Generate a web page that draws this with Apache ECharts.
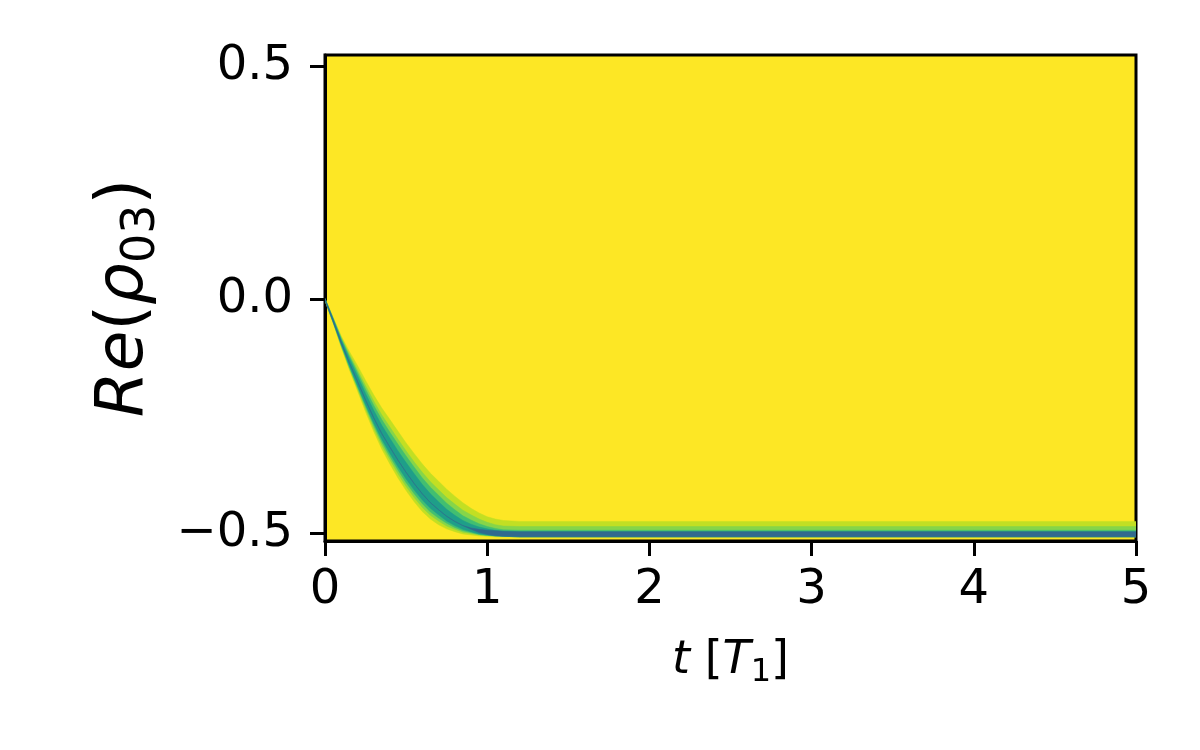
<!DOCTYPE html>
<html>
<head>
<meta charset="utf-8">
<script src="https://cdn.jsdelivr.net/npm/echarts@6/dist/echarts.min.js"></script>
<style>
  html, body { margin: 0; padding: 0; background: #fff; }
  #chart { width: 1200px; height: 750px; }
</style>
</head>
<body>
<div id="chart"></div>
<script>
// time samples [T1] read along the band
var tKeys = [0, 0.05, 0.1, 0.15, 0.2, 0.25, 0.3, 0.35, 0.4, 0.45, 0.5, 0.55, 0.6, 0.65, 0.7, 0.75, 0.8, 0.85, 0.9, 0.95, 1.0, 1.05, 1.1, 1.2, 1.5, 2, 3, 4, 5];
// centre of the band, Re(rho_03)
var center = [0, -0.045, -0.092, -0.135, -0.175, -0.215, -0.253, -0.287, -0.316, -0.344, -0.370, -0.394, -0.416, -0.435, -0.450, -0.464, -0.475, -0.484, -0.490, -0.495, -0.498, -0.500, -0.501, -0.502, -0.502, -0.502, -0.502, -0.502, -0.502];
// extent of each density level above / below the centre
var haloUp    = [.002,.007,.014,.024,.034,.042,.049,.055,.059,.062,.063,.064,.064,.063,.061,.058,.054,.049,.043,.038,.033,.030,.028,.027,.027,.027,.027,.027,.027];
var haloDown  = [.002,.005,.010,.015,.020,.025,.029,.033,.036,.038,.039,.039,.038,.035,.032,.027,.022,.018,.014,.011,.009,.008,.007,.006,.006,.006,.006,.006,.006];
var lightUp   = [.002,.006,.011,.018,.025,.031,.036,.040,.043,.045,.046,.046,.046,.045,.043,.040,.037,.033,.029,.025,.021,.018,.016,.016,.016,.016,.016,.016,.016];
var lightDown = [.002,.004,.008,.012,.016,.019,.022,.025,.027,.029,.030,.030,.029,.027,.024,.021,.017,.014,.011,.009,.007,.006,.006,.006,.006,.006,.006,.006,.006];
var greenUp   = [.002,.005,.009,.014,.019,.023,.027,.030,.032,.034,.035,.035,.034,.033,.031,.028,.025,.021,.018,.015,.012,.010,.008,.008,.008,.008,.008,.008,.008];
var greenDown = [.001,.003,.006,.009,.012,.014,.016,.018,.020,.021,.022,.022,.021,.020,.018,.015,.013,.011,.009,.008,.007,.006,.006,.006,.006,.006,.006,.006,.006];
var tealUp    = [.001,.003,.006,.009,.012,.014,.016,.018,.019,.020,.021,.021,.020,.019,.017,.015,.013,.011,.009,.008,.007,.006,.005,.005,.005,.005,.005,.005,.005];
var tealDown  = [.001,.002,.004,.007,.009,.010,.011,.012,.013,.014,.014,.014,.013,.012,.011,.010,.009,.008,.007,.007,.006,.006,.006,.006,.006,.006,.006,.006,.006];
var blueUp    = [.002,.003,.002,0,0,0,0,0,0,0,0,0,0,0,0,0,0,0,.001,.003,.004,.005,.005,.005,.005,.005,.005,.005,.005];
var blueDown  = [.002,.003,.002,0,0,0,0,0,0,0,0,0,0,0,0,0,0,0,.002,.004,.005,.006,.006,.006,.006,.006,.006,.006,.006];

var xTicks = [0, 1, 2, 3, 4, 5];
var yTicks = [-0.5, 0, 0.5];

// viridis_r levels, low density -> high density
var layers = [
  { up: haloUp,  down: haloDown,  color: '#c2df23' },
  { up: lightUp, down: lightDown, color: '#86d549' },
  { up: greenUp, down: greenDown, color: '#42be71' },
  { up: tealUp,  down: tealDown,  color: '#1f9e89' },
  { up: blueUp,  down: blueDown,  color: '#306a8e' }
];

var myChart = echarts.init(document.getElementById('chart'));
var font = 'DejaVu Sans';

function renderLayer(params, api) {
  var l = layers[params.dataIndex];
  var pts = [];
  for (var i = 0; i < tKeys.length; i++) {
    pts.push(api.coord([tKeys[i], center[i] + l.up[i]]));
  }
  for (var j = tKeys.length - 1; j >= 0; j--) {
    pts.push(api.coord([tKeys[j], center[j] - l.down[j]]));
  }
  return {
    type: 'polygon',
    shape: { points: pts },
    style: { fill: l.color, stroke: l.color, lineWidth: 0.5 }
  };
}

var option = {
  animation: false,
  backgroundColor: '#fff',
  grid: {
    left: 325, right: 64, top: 55, bottom: 209,
    show: true,
    backgroundColor: '#fde725',
    borderColor: '#000',
    borderWidth: 3
  },
  xAxis: {
    type: 'value',
    min: 0, max: 5, interval: 1,
    name: '{i|t} [{i|T}{sub|1}]',
    nameLocation: 'middle',
    nameGap: 92,
    nameTextStyle: {
      color: '#000', fontFamily: font, fontSize: 46, lineHeight: 56,
      rich: {
        i: { fontStyle: 'italic', fontFamily: font, fontSize: 46, lineHeight: 56, color: '#000' },
        sub: { fontFamily: font, fontSize: 32, lineHeight: 31, verticalAlign: 'bottom', color: '#000' }
      }
    },
    axisLine: { show: true, onZero: false, lineStyle: { color: '#000', width: 3 } },
    axisTick: { show: true, length: 15, lineStyle: { color: '#000', width: 3 } },
    axisLabel: {
      color: '#000', fontFamily: font, fontSize: 48, margin: 26,
      customValues: xTicks,
      formatter: function (v) { return String(v); }
    },
    splitLine: { show: false }
  },
  yAxis: {
    type: 'value',
    min: -0.517, max: 0.524,
    name: '{i|Re}({i|ρ}{sub|03})',
    nameLocation: 'middle',
    nameRotate: 90,
    nameGap: 160,
    nameTextStyle: {
      color: '#000', fontFamily: font, fontSize: 66, lineHeight: 80,
      rich: {
        i: { fontStyle: 'italic', fontFamily: font, fontSize: 66, lineHeight: 80, color: '#000' },
        sub: { fontFamily: font, fontSize: 46, lineHeight: 46, verticalAlign: 'bottom', color: '#000' }
      }
    },
    axisLine: { show: true, onZero: false, lineStyle: { color: '#000', width: 3 } },
    axisTick: { show: true, length: 15, customValues: yTicks, lineStyle: { color: '#000', width: 3 } },
    axisLabel: {
      color: '#000', fontFamily: font, fontSize: 48, margin: 32,
      customValues: yTicks,
      formatter: function (v) { return (v < 0 ? '\u2212' : '') + Math.abs(v).toFixed(1); }
    },
    splitLine: { show: false }
  },
  series: [
    {
      type: 'custom',
      coordinateSystem: 'cartesian2d',
      clip: true,
      silent: true,
      renderItem: renderLayer,
      data: layers.map(function (l, i) { return [i, 0]; })
    }
  ]
};

myChart.setOption(option);
</script>
</body>
</html>
